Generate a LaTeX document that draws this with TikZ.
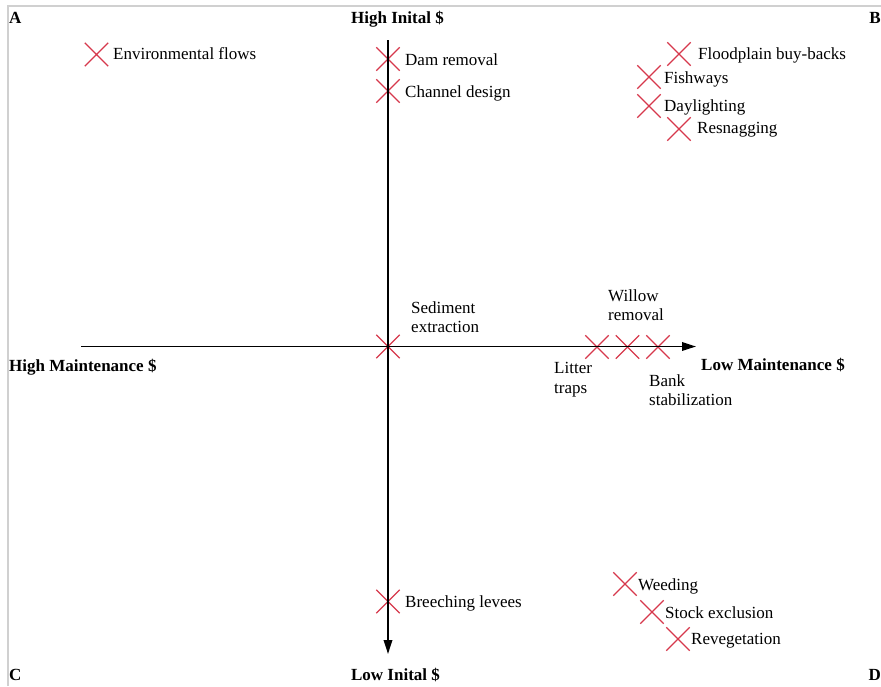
\documentclass[tikz,border=0pt]{standalone}
\usepackage{fontspec}
\setmainfont{Liberation Serif}
\usetikzlibrary{shapes.misc,arrows.meta}
\definecolor{xred}{RGB}{214,56,76}
\definecolor{framegray}{RGB}{208,208,208}
\begin{document}
\begin{tikzpicture}[x=1pt,y=-1pt,
  mk/.style={cross out,draw=xred,line width=1.3pt,minimum size=22pt,inner sep=0pt},
  lbl/.style={anchor=base west,inner sep=0pt,font=\fontsize{17}{19.5}\selectfont},
  lbl2/.style={anchor=north west,inner sep=0pt,align=left,font=\fontsize{17}{19.5}\selectfont},
  ttl/.style={inner sep=0pt,font=\fontsize{17}{20}\selectfont\bfseries},
  ax/.style={line width=1.8pt,-{Triangle[length=14pt,width=8.5pt]}}]
\useasboundingbox (0,0) rectangle (881,686);
% frame
\draw[framegray,line width=1.8pt] (8,686) -- (8,6) -- (881,6);
% corner letters and axis titles
\node[ttl,anchor=base west] (A) at (9,23) {A};
\node[ttl,anchor=base east] (B) at (881,23) {B};
\node[ttl,anchor=base west] (C) at (9,680) {C};
\node[ttl,anchor=base east] (D) at (881,680) {D};
\node[ttl,anchor=base] (hi) at (397.5,23) {High Inital \$};
\node[ttl,anchor=base] (lo) at (395.5,680) {Low Inital \$};
\node[ttl,anchor=base west] (hm) at (9,371) {High Maintenance \$};
\node[ttl,anchor=base west] (lm) at (701,370) {Low Maintenance \$};
% markers
\node[mk] (xenv) at (96.5,54.5) {};
\node[mk] (xdam) at (388,59) {};
\node[mk] (xchan) at (388,91) {};
\node[mk] (xsed) at (388,346.5) {};
\node[mk] (xlit) at (597,347) {};
\node[mk] (xwil) at (627.5,347) {};
\node[mk] (xbank) at (658,347) {};
\node[mk] (xflood) at (679,54) {};
\node[mk] (xfish) at (649,77) {};
\node[mk] (xday) at (649,106) {};
\node[mk] (xres) at (679,129) {};
\node[mk] (xbre) at (388,601.5) {};
\node[mk] (xwee) at (625,584) {};
\node[mk] (xsto) at (652,612) {};
\node[mk] (xrev) at (678,639) {};
% axes
\coordinate (vtop) at (388,40);
\coordinate (vbot) at (388,654);
\coordinate (hl) at (81,346.5);
\coordinate (hr) at (696,346.5);
\draw[ax] (vtop) -- (vbot);
\draw[ax] (hl) -- (hr);
% labels
\node[lbl] (tenv) at (113,59) {Environmental flows};
\node[lbl] (tdam) at (405,65) {Dam removal};
\node[lbl] (tchan) at (405,97) {Channel design};
\node[lbl2] (tsed) at (411,301.4) {Sediment\\extraction};
\node[lbl2] (twil) at (608,289.4) {Willow\\removal};
\node[lbl2] (tlit) at (554,362.4) {Litter\\traps};
\node[lbl2] (tbank) at (649,374.4) {Bank\\stabilization};
\node[lbl] (tflood) at (698,59) {Floodplain buy-backs};
\node[lbl] (tfish) at (664,83) {Fishways};
\node[lbl] (tday) at (664,111) {Daylighting};
\node[lbl] (tres) at (697,133) {Resnagging};
\node[lbl] (tbre) at (405,607) {Breeching levees};
\node[lbl] (twee) at (638,590) {Weeding};
\node[lbl] (tsto) at (665,618) {Stock exclusion};
\node[lbl] (trev) at (691,644) {Revegetation};
\end{tikzpicture}
\end{document}
